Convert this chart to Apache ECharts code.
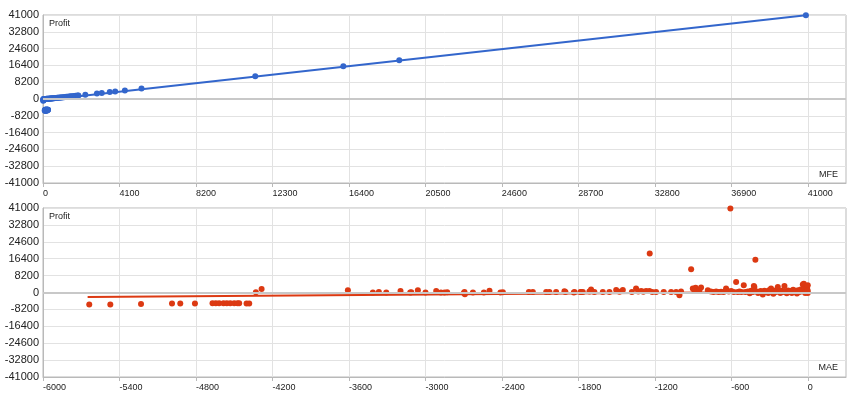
<!DOCTYPE html>
<html>
<head>
<meta charset="utf-8">
<script src="https://cdn.jsdelivr.net/npm/echarts@6/dist/echarts.min.js"></script>
<style>
  html, body { margin: 0; padding: 0; background: #ffffff; }
  #chart { width: 860px; height: 400px; }
</style>
</head>
<body>
<div id="chart"></div>
<script>
// ---- tick labels ----
const mfeTicks = [0, 4100, 8200, 12300, 16400, 20500, 24600, 28700, 32800, 36900, 41000];
const maeTicks = [-6000, -5400, -4800, -4200, -3600, -3000, -2400, -1800, -1200, -600, 0];
const profitTicks = [-41000, -32800, -24600, -16400, -8200, 0, 8200, 16400, 24600, 32800, 41000];

// ---- MFE vs Profit points [MFE, Profit] ----
const mfeLosses = [
  [120,-5870],[180,-5800],[90,-5580],[250,-5380],[160,-5380],[210,-5380],
  [140,-5240],[230,-5240],[110,-5240],[190,-5240],[270,-5240],[150,-5240],
  [200,-5240],[130,-5240],[260,-5240],[170,-5240],[240,-5300],[220,-5300]
];
const mfeWins = [
  [10,-870],[25,-600],[40,-450],[15,-300],[55,-240],[70,-240],[35,-150],[80,-100],[20,-50],
  [100,50],[130,-20],[160,60],[190,90],[220,120],[250,80],[280,150],[310,180],[340,160],[370,210],
  [400,240],[430,230],[460,280],[490,300],[520,320],[560,350],[600,400],[640,430],[680,480],[720,520],
  [760,560],[800,590],[850,640],[900,700],[950,740],[1000,790],[1060,860],[1120,910],[1180,980],[1250,1050],
  [1320,1120],[1400,1200],[1480,1290],[1560,1370],[1650,1450],[1750,1560],[1850,1660],[1900,1730],
  [2270,2100],[2890,2700],[3150,2960],[3580,3380],[3870,3700],[4390,4200],[5280,5140],
  [11380,11150],[16100,16030],[19100,18950],[40900,40850]
];
// trendline end points [MFE, Profit]
const mfeTrend = [[0,-560],[40900,40850]];

// ---- MAE vs Profit points [MAE, Profit] ----
const maeLosses = [
  [-5637,-5870],[-5472,-5800],[-5231,-5580],[-4988,-5380],[-4923,-5380],[-4808,-5380],
  [-4670,-5240],[-4644,-5240],[-4618,-5240],[-4584,-5240],[-4558,-5240],[-4531,-5240],
  [-4500,-5240],[-4474,-5240],[-4461,-5240],[-4403,-5300],[-4382,-5300]
];
const maeMid = [
  [-4330,100],[-4285,1700],
  [-3608,1070],[-3412,0],[-3365,240],[-3307,0],[-3195,730],[-3119,0],[-3111,100],[-3059,1070],
  [-2999,0],[-2915,730],[-2878,0],[-2850,0],[-2829,100],[-2698,-240],[-2693,240],[-2690,-870],
  [-2627,0],[-2541,0],[-2497,900],[-2411,0],[-2392,100],[-2188,240],[-2157,240],[-2052,240],
  [-2027,300],[-1974,240],[-1909,580],[-1901,240],[-1835,0],[-1830,240],[-1783,240],[-1778,240],
  [-1765,200],[-1713,500],[-1700,1400],[-1674,300],[-1608,240],[-1556,300],[-1503,1200],[-1477,400],
  [-1451,1200],[-1380,240],[-1347,1900],[-1330,500],[-1307,730],[-1290,400],[-1268,730],[-1242,730],
  [-1240,18900],[-1220,240],[-1190,240],[-1130,240],[-1072,300],[-1033,240],[-1007,-1360],[-994,500],
  [-915,11250],[-902,1900],[-889,730],[-880,2300],[-870,730],[-863,730],[-850,1200],[-837,2370]
];
const maeNearZero = [
  [-784,1070],[-760,500],[-740,300],[-719,500],[-700,240],[-680,400],[-660,300],[-641,1900],
  [-620,500],[-607,40800],[-601,730],[-580,300],[-562,5100],[-550,240],[-536,500],[-520,300],
  [-502,3500],[-490,240],[-470,500],[-455,-400],[-445,800],[-430,300],[-423,3150],[-419,2670],
  [-411,15950],[-400,500],[-390,-300],[-380,240],[-370,700],[-360,400],[-353,-1000],[-340,900],
  [-330,300],[-320,600],[-310,-200],[-300,1200],[-288,1900],[-280,400],[-270,-600],[-260,800],
  [-250,300],[-240,1400],[-235,2670],[-225,500],[-215,-300],[-205,900],[-195,300],[-183,3150],
  [-175,600],[-165,-400],[-155,1000],[-145,300],[-135,700],[-125,-200],[-115,1300],[-105,400],
  [-95,800],[-85,-500],[-75,1100],[-65,300],[-55,1500],[-45,600],[-39,3830],[-31,4300],
  [-25,1900],[-20,-300],[-15,1200],[-10,500],[-8,2800],[-5,2200],[0,3500],[0,800],[0,-200]
];
// trendline end points [MAE, Profit]
const maeTrend = [[-5650,-2170],[0,400]];

const FONT = '"Liberation Sans", Arial, sans-serif';
const BLUE = '#3366cc';
const RED = '#dc3912';
const AXIS = '#b9b9b9';
const GRID = '#e2e2e2';
const TEXT = '#222222';

function xAxisFor(gridIndex, min, max, interval, ticks) {
  return {
    type: 'value', gridIndex, min, max, interval,
    axisLine: { show: true, onZero: false, lineStyle: { color: AXIS, width: 1 } },
    axisTick: { show: true, length: 4, customValues: ticks, lineStyle: { color: AXIS } },
    axisLabel: {
      customValues: ticks, align: 'left', margin: 6, fontSize: 9, color: TEXT, fontFamily: FONT,
      formatter: v => String(v)
    },
    splitLine: { show: true, lineStyle: { color: GRID, width: 1 } }
  };
}
function yAxisFor(gridIndex) {
  return {
    type: 'value', gridIndex, min: profitTicks[0], max: profitTicks[profitTicks.length - 1], interval: 8200,
    axisLine: { show: true, onZero: false, lineStyle: { color: AXIS, width: 1 } },
    axisTick: { show: false },
    axisLabel: { margin: 4, fontSize: 11, color: TEXT, fontFamily: FONT, formatter: v => String(v) },
    splitLine: { show: true, lineStyle: { color: GRID, width: 1 } }
  };
}
const zeroLine = {
  silent: true, symbol: 'none', label: { show: false }, animation: false,
  lineStyle: { color: '#c8c8c8', width: 2, type: 'solid' },
  data: [{ yAxis: 0 }]
};

const chart = echarts.init(document.getElementById('chart'), null, { renderer: 'canvas' });
chart.setOption({
  animation: false,
  backgroundColor: '#ffffff',
  grid: [
    { left: 43, top: 15, width: 803, height: 168, show: true, borderColor: AXIS, borderWidth: 1, backgroundColor: 'transparent' },
    { left: 43, top: 208, width: 803, height: 169, show: true, borderColor: AXIS, borderWidth: 1, backgroundColor: 'transparent' }
  ],
  xAxis: [
    xAxisFor(0, 0, 43050, 4100, mfeTicks),
    xAxisFor(1, -6000, 300, 600, maeTicks)
  ],
  yAxis: [yAxisFor(0), yAxisFor(1)],
  graphic: [
    { type: 'text', x: 49, y: 24, style: { text: 'Profit', fill: TEXT, fontSize: 9, fontFamily: FONT, verticalAlign: 'middle' } },
    { type: 'text', x: 838, y: 175, style: { text: 'MFE', fill: TEXT, fontSize: 9, fontFamily: FONT, align: 'right', verticalAlign: 'middle' } },
    { type: 'text', x: 49, y: 217, style: { text: 'Profit', fill: TEXT, fontSize: 9, fontFamily: FONT, verticalAlign: 'middle' } },
    { type: 'text', x: 838, y: 368, style: { text: 'MAE', fill: TEXT, fontSize: 9, fontFamily: FONT, align: 'right', verticalAlign: 'middle' } }
  ],
  series: [
    { type: 'line', xAxisIndex: 0, yAxisIndex: 0, data: mfeTrend, symbol: 'none', z: 1,
      lineStyle: { color: BLUE, width: 2 }, markLine: zeroLine },
    { type: 'scatter', xAxisIndex: 0, yAxisIndex: 0, data: mfeLosses.concat(mfeWins), symbolSize: 6, clip: false,
      itemStyle: { color: BLUE, opacity: 1 }, z: 3 },
    { type: 'line', xAxisIndex: 1, yAxisIndex: 1, data: maeTrend, symbol: 'none', z: 1,
      lineStyle: { color: RED, width: 2 }, markLine: zeroLine },
    { type: 'scatter', xAxisIndex: 1, yAxisIndex: 1, data: maeLosses.concat(maeMid, maeNearZero), symbolSize: 6, clip: false,
      itemStyle: { color: RED, opacity: 1 }, z: 3 }
  ]
});
</script>
</body>
</html>
